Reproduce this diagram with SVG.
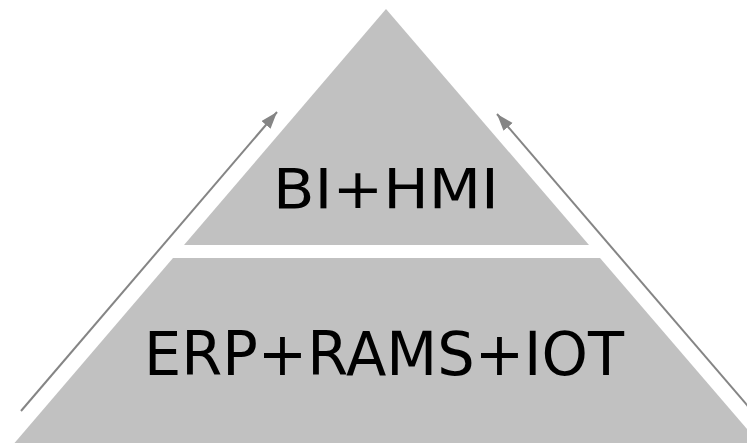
<svg xmlns="http://www.w3.org/2000/svg" width="747" height="445" viewBox="0 0 747 445">
<style>
.layer{fill:#c1c1c1;stroke:none}
.lbl{font-family:"DejaVu Sans","Verdana",sans-serif;fill:#000;text-anchor:middle}
.arr{stroke:#858585;stroke-width:2;fill:none}
</style>
<defs>
<marker id="ah" markerUnits="userSpaceOnUse" markerWidth="20" markerHeight="14" refX="17" refY="6" orient="auto">
<path d="M0,0 L17,6 L0,12 Z" fill="#858585"/>
</marker>
</defs>
<rect width="747" height="445" fill="#fff"/>
<g id="top">
<polygon class="layer" points="386,9 589,245 184,245"/>
<text class="lbl" x="386" y="208" font-size="56" textLength="226" lengthAdjust="spacingAndGlyphs">BI+HMI</text>
</g>
<g id="bottom">
<polygon class="layer" points="173,258 600,258 759,443 14.5,443"/>
<text class="lbl" x="384" y="375" font-size="60" textLength="480" lengthAdjust="spacingAndGlyphs">ERP+RAMS+IOT</text>
</g>
<g id="connectors">
<line class="arr" x1="21" y1="411" x2="277" y2="112" marker-end="url(#ah)"/>
<line class="arr" x1="765" y1="426" x2="497" y2="114" marker-end="url(#ah)"/>
</g>
</svg>
